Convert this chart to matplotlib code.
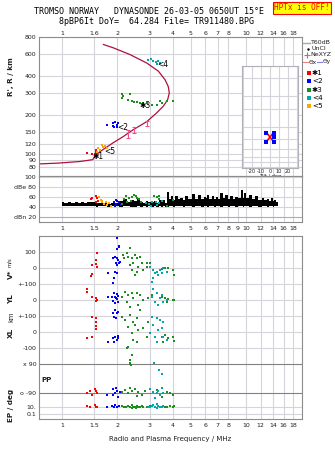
import numpy as np
import matplotlib.pyplot as plt
from matplotlib.ticker import NullLocator

W, H = 335, 451
fig = plt.figure(figsize=(W / 100, H / 100), dpi=100)
fig.patch.set_facecolor('white')

RED, BLUE, GREEN, CYAN, ORANGE = '#ff0000', '#0000ff', '#1e8c1e', '#00a8a8', '#ffa500'
PROFILE = '#b0103c'
PINK = '#f0508c'
GRID = '#d4d4da'
FRAME = '#8c8c8c'
TXT = '#202020'

# ---------------- data ----------------
freq_ticks = [1, 1.5, 2, 3, 4, 5, 6, 7, 8, 10, 12, 14, 16, 18]
freq_labels_top = ['1', '1.6', '2', '3', '4', '5', '6', '7', '8', '10', '12', '14', '16', '18']
freq_ticks_mid = [1, 1.5, 2, 3, 4, 5, 6, 7, 8, 9, 10, 12, 14, 16, 18]
freq_labels_mid = ['1', '1.5', '2', '3', '4', '5', '6', '7', '8', '9', '10', '12', '14', '16', '18']
freq_labels_bot = ['1', '1.5', '2', '3', '4', '5', '6', '7', '8', '10', '12', '14', '16', '18']
height_ticks = [80, 90, 100, 120, 150, 200, 300, 400, 600, 800]

# true-height profile (MHz, km)
profile_f = [0.75, 0.95, 1.12, 1.25, 1.36, 1.47, 1.51, 1.61, 1.90, 2.15, 2.44, 2.89,
             3.27, 3.55, 3.75, 3.83, 3.78, 3.63, 3.34, 2.89, 2.34, 1.90, 1.68]
profile_h = [84.3, 85.5, 87, 88, 89.5, 91, 97, 105, 123, 137, 155, 179,
             209, 235, 264, 298, 334, 377, 439, 507, 590, 665, 705]

# NeXYZ error bars
nexyz_f = [2.29, 2.47, 2.89]
nexyz_h = [144, 154, 173]
nexyz_err = [10, 9, 7]

# virtual heights of the echo groups
h_red_f = [1.37, 1.45, 1.51, 1.53, 1.54]
h_red = [103, 101, 101, 108, 105]
h_orange_f = [1.544, 1.575, 1.609, 1.643, 1.676, 1.713, 1.749]
h_orange = [105, 112, 108, 118, 114, 115, 112]
h_blue_f = [1.764, 1.885, 1.90, 1.925, 1.94, 1.98, 2.0, 2.02]
h_blue = [169, 166, 174, 162, 179, 169, 162, 174]
h_green_f = [2.11, 2.11, 2.15, 2.29, 2.34, 2.39, 2.45, 2.55, 2.65, 2.75, 2.89,
             3.07, 3.27, 3.41, 3.48, 3.70, 4.02]
h_green = [290, 270, 280, 264, 290, 257, 255, 252, 250, 248, 250, 242, 242, 257,
           250, 257, 260]
h_cyan_f = [2.95, 3.03, 3.14, 3.24, 3.34, 3.41, 3.27]
h_cyan = [539, 545, 526, 515, 526, 508, 502]

echo_names = ['✱1', '<2', '✱3', '<4', '<5']
echo_label_f = [1.47, 1.99, 2.65, 3.28, 1.69]
echo_label_h = [97, 160, 239, 496, 105]

# amplitude trace (dB)
db_f = [1.00, 1.05, 1.10, 1.15, 1.20, 1.25, 1.30, 1.35, 1.40, 1.45,
        1.50, 1.55, 1.60, 1.70, 1.80, 1.90, 2.00, 2.10, 2.20, 2.30,
        2.40, 2.50, 2.60, 2.70, 2.80, 2.90, 3.00, 3.10, 3.20, 3.30,
        3.40, 3.50, 3.60, 3.70,
        3.78, 3.86, 3.94, 4.06, 4.19, 4.32, 4.46, 4.60, 4.75, 4.95,
        5.17, 5.40, 5.62, 5.80, 5.98, 6.10, 6.23, 6.43, 6.63, 6.77,
        6.91, 7.15, 7.37, 7.60, 7.84, 8.10, 8.36, 8.60, 8.90, 9.20,
        9.48, 9.68, 9.87, 10.2, 10.5, 10.95, 11.4, 11.9, 12.4, 12.8,
        13.2, 13.5, 13.8, 14.1, 14.4, 14.7, 15.0]
db_top = [49, 47, 50, 48, 49, 47, 50, 48, 49, 50,
          49, 48, 47, 48, 46, 47, 48, 52, 56, 50,
          54, 51, 55, 50, 48, 52, 50, 49, 51, 48,
          53, 50, 54, 48,
          69, 55, 61, 54, 61, 56, 57, 54, 61, 55,
          66, 56, 63, 55, 59, 57, 63, 55, 62, 56,
          59, 55, 67, 57, 64, 55, 61, 56, 59, 57,
          73, 58, 67, 57, 63, 55, 61, 54, 57, 53,
          55, 52, 57, 51, 53, 49, 49]
db_low = [42, 41, 42, 41, 41, 42, 41, 41, 42, 41,
          41, 40, 41, 41, 40, 41, 41, 40, 41, 41,
          40, 40, 41, 40, 41, 40, 41, 40, 41, 40,
          41, 40, 41, 40,
          40, 41, 42, 40, 41, 42, 41, 40, 42, 41,
          40, 42, 41, 40, 42, 41, 40, 42, 41, 40,
          42, 41, 40, 42, 41, 40, 42, 41, 40, 42,
          41, 40, 42, 41, 40, 42, 41, 40, 42, 41,
          40, 42, 41, 40, 42, 41, 42]

db_red = [(1.432, 55), (1.461, 57), (1.536, 62), (1.556, 57), (1.575, 52), (1.525, 49)]
db_orange = [(1.589, 59), (1.623, 54), (1.656, 49), (1.691, 45), (1.728, 50),
             (1.763, 43), (1.801, 47), (1.840, 42), (1.643, 52)]
db_blue = [(1.917, 50), (1.958, 54), (1.998, 52), (2.042, 49), (1.973, 45),
           (2.085, 43), (1.942, 42)]
db_green = [(2.171, 55), (2.235, 61), (2.312, 57), (2.410, 59), (2.461, 63),
            (2.516, 62), (2.567, 58), (2.622, 55), (2.362, 52), (2.262, 49),
            (2.680, 50), (2.125, 45), (3.163, 62), (3.291, 59), (3.362, 55),
            (3.735, 42), (3.37, 62), (4.02, 53)]
db_cyan = [(2.851, 47), (2.972, 45), (3.093, 49), (3.228, 50), (3.362, 47),
           (3.505, 52), (3.034, 42), (3.291, 43)]

# drift velocity V* (m/s) and echo location YL, XL (km)
vstar_red = [(1.544, 96), (1.530, 50), (1.530, 25), (1.45, 19), (1.544, 8),
             (1.45, -37), (1.432, -50)]
yl_red = [(1.362, 67), (1.362, 52), (1.45, 20), (1.53, 10), (1.544, 0), (1.53, -6)]
xl_red = [(1.45, 96), (1.53, 87), (1.53, 64), (1.53, 37), (1.53, 19),
          (1.362, -40), (1.45, -29)]

vstar_blue = [(2.048, 133), (1.998, 117), (1.942, 71), (1.983, 60), (2.023, 50),
              (1.900, 60), (2.066, 40), (1.966, 29), (1.998, 19), (2.048, 33),
              (1.942, -23), (1.772, -29), (1.983, -33), (1.917, -65), (1.900, -92),
              (1.998, 186), (2.048, 137)]
yl_blue = [(1.917, 46), (1.983, 37), (1.942, 21), (2.023, 25), (1.861, 21),
           (1.772, 21), (1.983, 4), (1.900, -4), (1.942, -21), (2.023, -10),
           (1.966, 10)]
xl_blue = [(1.942, 137), (2.023, 127), (1.900, 121), (1.983, 117), (1.966, 85),
           (1.925, 96), (1.942, -29), (2.023, -25), (1.885, -40), (1.983, -50),
           (1.772, -60), (1.917, -60), (2.023, -40)]

vstar_green = [(2.342, 123), (2.153, 81), (2.245, 92), (2.171, 60), (2.292, 71),
               (2.393, 60), (2.494, 81), (2.548, 60), (2.654, 71), (2.443, 29),
               (2.342, 19), (2.600, 8), (2.711, 29), (2.887, 33), (3.008, 29),
               (2.767, -12), (2.548, -23), (2.393, -12), (2.494, -44), (2.887, 8),
               (3.477, -8), (3.625, -2), (3.777, -2), (3.700, -23), (3.995, -12),
               (4.062, -44)]
yl_green = [(2.199, 52), (2.110, 21), (2.292, 31), (2.393, 42), (2.548, 46),
            (2.654, 31), (2.443, 10), (2.245, -10), (2.767, 0), (2.600, -31),
            (2.946, 10), (3.073, 31), (2.342, -42), (2.654, -63), (3.477, 21),
            (3.625, 10), (3.777, 4), (3.700, -10), (3.995, 0), (4.062, 0)]
xl_green = [(2.110, 96), (2.199, 75), (2.342, 106), (2.443, 65), (2.548, 85),
            (2.292, 33), (2.494, 44), (2.600, 12), (2.393, -8), (2.767, 23),
            (2.946, 65), (2.887, -29), (2.443, -50), (2.292, -92), (2.548, -60),
            (2.245, -102), (2.393, -144), (2.342, -175), (2.362, -206),
            (3.477, -29), (3.625, -19), (3.777, -40), (3.548, -60), (3.995, -29),
            (4.062, -54)]

vstar_cyan = [(3.008, 8), (3.137, -12), (3.203, -33), (3.273, -23), (3.408, -12),
              (3.548, -2), (3.700, -23), (3.341, -44), (3.137, -65), (3.073, -85),
              (3.477, -33)]
yl_cyan = [(3.137, 67), (3.273, 42), (3.073, 21), (3.408, 10), (3.548, -10),
           (3.203, -10), (3.341, -31), (3.700, 0), (3.477, 31)]
xl_cyan = [(3.073, 96), (3.273, 85), (3.408, 75), (3.548, 65), (3.137, 44),
           (3.477, 23), (3.341, 12), (3.008, -8), (3.203, -29), (3.548, -29),
           (3.700, -50), (3.273, -60)]

# polarisation PP (deg) and EP (deg)
pp_red = [(1.362, -92), (1.419, -75), (1.511, -67), (1.544, -92), (1.45, -102), (1.53, -75)]
pp_blue = [(1.763, -102), (1.900, -67), (1.983, -75), (1.942, -92), (2.023, -113),
           (1.900, -102), (2.066, -82), (1.966, -61)]
pp_green = [(2.110, -82), (2.199, -72), (2.292, -92), (2.393, -75), (2.494, -67),
            (2.600, -82), (2.711, -102), (2.823, -75), (2.548, -108), (2.342, -61),
            (3.700, -82), (3.84, -92), (3.995, -102), (3.273, -72), (3.51, -113),
            (2.342, 100), (2.342, 88)]
pp_cyan = [(3.008, -67), (3.137, -82), (3.273, -92), (3.408, -102), (3.341, -75),
           (3.548, -88), (3.203, -123), (3.477, -61), (3.16, 100), (3.38, 52),
           (3.477, 27)]

ep_red = [(1.362, 19), (1.419, 12), (1.511, 37), (1.544, 8), (1.53, 12)]
ep_blue = [(1.763, 12), (1.88, 19), (1.94, 37), (1.98, 12), (2.04, 19), (1.92, 8)]
ep_green = [(2.11, 19), (2.17, 12), (2.24, 8), (2.29, 19), (2.34, 12), (2.39, 37),
            (2.44, 8), (2.49, 12), (2.55, 19), (2.6, 8), (2.65, 12), (2.71, 19),
            (2.77, 8), (2.89, 12), (3.01, 19), (3.48, 12), (3.55, 19), (3.63, 8),
            (3.7, 12), (3.84, 19), (3.99, 12), (4.06, 19), (2.4, 4.2), (2.52, 4.2)]
ep_cyan = [(2.95, 12), (3.01, 8), (3.07, 19), (3.14, 37), (3.2, 12), (3.27, 4.2),
           (3.34, 19), (3.41, 8), (3.48, 12), (3.55, 19), (3.3, 72)]

# tilt inset (deg, km)
tilt_x_a = [-4, 0, 4]
tilt_x_b = [4, 0, -4]
tilt_h = [175, 158, 142]
tilt_y_pts = [(-4, 175), (4, 175), (-4, 142), (4, 142), (4.5, 158)]

# ---------------- layout ----------------
def box(x0, y0, x1, y1):
    return [x0 / W, 1 - y1 / H, (x1 - x0) / W, (y1 - y0) / H]

ax_h = fig.add_axes(box(39, 37, 302, 176))
ax_db = fig.add_axes(box(39, 176, 302, 222))
ax_lo = fig.add_axes(box(39, 236, 302, 419))

FMIN, FMAX = 0.75, 20.15


def style(ax, ticks, labels, where):
    ax.set_xscale('log')
    ax.set_xlim(FMIN, FMAX)
    ax.set_xticks(ticks)
    ax.set_xticklabels(labels)
    ax.xaxis.set_minor_locator(NullLocator())
    ax.tick_params(axis='x', length=0, labelsize=4.5, labelcolor=TXT,
                   top=(where == 'top'), labeltop=(where == 'top'),
                   bottom=(where == 'bottom'), labelbottom=(where == 'bottom'),
                   pad={'top': 1.0, 'bottom': 3.2}.get(where, 2))
    ax.tick_params(axis='y', length=0, labelsize=4.5, labelcolor=TXT, pad=2)
    for s in ax.spines.values():
        s.set_color(FRAME)
        s.set_linewidth(0.8)
    for f in ticks:
        ax.axvline(f, color=GRID, lw=0.8, zorder=0)


def scat(ax, fx, vy, color, **kw):
    ax.scatter(fx, vy, marker='s', s=4, color=color, lw=0, zorder=3, **kw)


# ---------- height panel ----------
style(ax_h, freq_ticks, freq_labels_top, 'top')
ax_h.set_yscale('log')
ax_h.set_ylim(68, 806)
ax_h.set_yticks(height_ticks)
ax_h.set_yticklabels([str(v) for v in height_ticks])
ax_h.yaxis.set_minor_locator(NullLocator())
for hh in height_ticks:
    ax_h.axhline(hh, color=GRID, lw=0.8, zorder=0)

ax_h.plot(profile_f, profile_h, color=PROFILE, lw=0.9, zorder=2)
ax_h.errorbar(nexyz_f, nexyz_h, yerr=nexyz_err, fmt='none', ecolor=PINK,
              elinewidth=0.8, capsize=1.5, capthick=0.8, zorder=3)
scat(ax_h, h_red_f, h_red, RED)
scat(ax_h, h_orange_f, h_orange, ORANGE)
scat(ax_h, h_blue_f, h_blue, BLUE)
scat(ax_h, h_green_f, h_green, GREEN)
scat(ax_h, h_cyan_f, h_cyan, CYAN)
for name, fx, hy in zip(echo_names, echo_label_f, echo_label_h):
    ax_h.text(fx, hy, name, fontsize=5.5, color='black', ha='left', va='center', zorder=4)

# tilt inset
ax_in = ax_h.inset_axes([(242 - 39) / 263, 78.6, (298 - 242) / 263, 485 - 78.6],
                        transform=ax_h.get_yaxis_transform())
ax_in.set_facecolor('white')
ax_in.set_yscale('log')
ax_in.set_ylim(78.6, 485)
ax_in.set_xlim(-31, 31)
ax_in.set_yticks(height_ticks)
ax_in.yaxis.set_minor_locator(NullLocator())
ax_in.set_yticklabels([])
ax_in.set_xticks([-30, -20, -10, 0, 10, 20, 30])
ax_in.set_xticklabels(['', '-20', '-10', '0', '10', '20', ''])
ax_in.tick_params(length=0, labelsize=3.6, pad=0.6, labelcolor=TXT)
ax_in.grid(True, color=GRID, lw=0.8)
ax_in.set_xlabel('Tilt / deg', fontsize=3.6, labelpad=0, color=TXT)
for s in ax_in.spines.values():
    s.set_color('#b0b0b8')
    s.set_linewidth(0.8)
ax_in.plot(tilt_x_a, tilt_h, color=RED, lw=1.2)
ax_in.plot(tilt_x_b, tilt_h, color=RED, lw=1.2)
tx, th = np.array(tilt_y_pts).T
ax_in.scatter(tx, th, marker='s', s=5, color=BLUE, lw=0, zorder=3)

# ---------- amplitude panel ----------
style(ax_db, freq_ticks_mid, freq_labels_mid, 'bottom')
ax_db.set_ylim(10, 102)
ax_db.set_yticks([20, 40, 60, 80, 100])
ax_db.set_yticklabels(['dBn 20', '40', '60', 'dBe 80', '100'])
for v in [40, 60, 80, 100]:
    ax_db.axhline(v, color=GRID, lw=0.8, zorder=0)
ax_db.axhline(20, color='#a8a8e6', lw=0.8, zorder=0)
ax_db.fill_between(db_f, db_low, db_top, step='mid', color='black', lw=0, zorder=2)
for pts, col in [(db_red, RED), (db_orange, ORANGE), (db_blue, BLUE),
                 (db_green, GREEN), (db_cyan, CYAN)]:
    fx, vy = np.array(pts).T
    scat(ax_db, fx, vy, col)

# ---------- drift / location / polarisation panel ----------
V_OFF, YL_OFF, XL_OFF, PP_OFF = 944, 744, 544, 253


def ep_pos(ep):
    return 75 + 22 * np.log10(np.asarray(ep) / 10.0)


style(ax_lo, freq_ticks, freq_labels_bot, 'bottom')
ax_lo.set_ylim(0, 1144)
lo_ticks = [1044, 944, 844, 744, 644, 544, 444, PP_OFF + 90, PP_OFF - 90, 75, 31]
lo_labels = ['100', '0', '+-100', '0', '+-100', '0', '-100', 'x 90', 'o -90', '10.', '0.1']
ax_lo.set_yticks(lo_ticks)
ax_lo.set_yticklabels(lo_labels)
for t in lo_ticks:
    dark = t in (PP_OFF + 90, PP_OFF - 90)
    ax_lo.axhline(t, color='#808080' if dark else GRID, lw=0.8, zorder=0)

groups = [
    (RED, vstar_red, yl_red, xl_red, pp_red, ep_red),
    (BLUE, vstar_blue, yl_blue, xl_blue, pp_blue, ep_blue),
    (GREEN, vstar_green, yl_green, xl_green, pp_green, ep_green),
    (CYAN, vstar_cyan, yl_cyan, xl_cyan, pp_cyan, ep_cyan),
]
for col, vs, yl, xl, pp, ep in groups:
    for pts, off in [(vs, V_OFF), (yl, YL_OFF), (xl, XL_OFF), (pp, PP_OFF)]:
        fx, vy = np.array(pts).T
        scat(ax_lo, fx, vy + off, col)
    fx, vy = np.array(ep).T
    scat(ax_lo, fx, ep_pos(vy), col)

# ---------- overlay for titles, legend, side labels (pixel coords) ----------
ov = fig.add_axes([0, 0, 1, 1], zorder=10)
ov.set_xlim(0, W)
ov.set_ylim(H, 0)
ov.axis('off')
ov.patch.set_alpha(0)

mono = 'DejaVu Sans Mono'
ov.text(149, 12, 'TROMSO NORWAY   DYNASONDE 26-03-05 0650UT 15°E', family=mono,
        fontsize=6, ha='center', va='center', color='black')
ov.text(156.5, 21, '8pBP6It DoY=  64.284 File= TR911480.BPG', family=mono,
        fontsize=6, ha='center', va='center', color='black')
ov.text(302, 8, 'HPTx is OFF!', family=mono, fontsize=5.6, color='red',
        ha='center', va='center',
        bbox=dict(facecolor='#ffff00', edgecolor='red', lw=0.8, pad=1.2))

# legend
ov.plot([303, 310], [43, 43], color='#a8a8a8', lw=1)
ov.text(311, 43, 'T60dB', fontsize=4.5, va='center', color=TXT)
ov.plot([308], [49], marker='.', ms=1.5, color='black')
ov.text(312, 49, 'UnCl', fontsize=4.5, va='center', color=TXT)
ov.plot([307], [55], marker='+', ms=4, mew=0.8, color=PINK)
ov.text(310, 55, 'NeXYZ', fontsize=4.5, va='center', color=TXT)
ov.plot([303, 308], [62, 62], color='#f08080', lw=0.8)
ov.text(308.5, 62, 'Θx', fontsize=4.2, va='center', color=TXT)
ov.plot([317, 322], [62, 62], color='#8080f0', lw=0.8)
ov.text(322.5, 62, 'Θy', fontsize=4.2, va='center', color=TXT)
for name, col, yy in zip(['✱1', '<2', '✱3', '<4', '<5'],
                         [RED, BLUE, GREEN, CYAN, ORANGE], [73, 81, 90, 98, 106]):
    ov.plot([309], [yy], marker='s', ms=2.2, mew=0, color=col)
    ov.text(312, yy, name, fontsize=5.2, va='center', color='black')

# side labels
side = dict(fontsize=5.2, fontweight='bold', rotation=90, ha='center', va='center', color=TXT)
ov.text(11, 77, "R', R / km", **side)
ov.text(11, 274, 'V*', **side)
ov.text(10, 262, 'm/s', fontsize=3.8, rotation=90, ha='center', va='center', color=TXT)
ov.text(11, 299, 'YL', **side)
ov.text(11, 317, 'km', fontsize=4.8, rotation=90, ha='center', va='center', color=TXT)
ov.text(11, 333, 'XL', **side)
ov.text(11, 405, 'EP / deg', **side)
ov.text(47, 380, 'PP', fontsize=5, fontweight='bold', ha='center', va='center', color=TXT)
ov.text(170, 439, 'Radio and Plasma Frequency / MHz', fontsize=5, ha='center',
        va='center', color=TXT)

fig.savefig('out.png', dpi=100)
